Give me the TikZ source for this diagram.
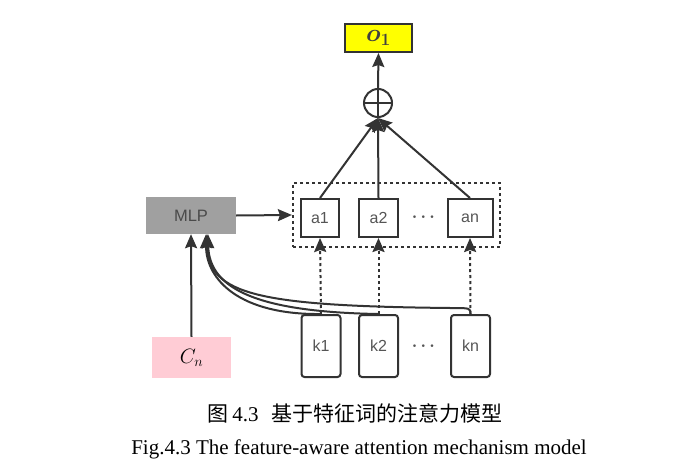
\documentclass[tikz,border=0pt]{standalone}
\usepackage{fontspec}
\setmainfont{Liberation Serif}
\setsansfont{Liberation Sans}
\newfontfamily\cjk{Noto Sans CJK SC}
\usepackage{amsmath,bm}
\usetikzlibrary{arrows.meta,calc}
\definecolor{linec}{HTML}{333333}
\definecolor{labc}{HTML}{555555}
\definecolor{mlpfill}{HTML}{A0A0A0}
\definecolor{mlptext}{HTML}{4A4A4A}
\definecolor{cnfill}{HTML}{FFCCD5}
\definecolor{ofill}{HTML}{FFFF00}
\newcommand\fsLab{\fontsize{16}{19}\selectfont}
\newcommand\fsMlp{\fontsize{16.5}{19}\selectfont}
\newcommand\fsOut{\fontsize{24}{27}\selectfont}
\newcommand\fsCn{\fontsize{20}{23}\selectfont}
\newcommand\fsCap{\fontsize{21}{25}\selectfont}
\begin{document}
\begin{tikzpicture}[x=1pt,y=-1pt,
  boxsty/.style={draw=linec,line width=2pt,inner sep=0pt,font=\sffamily\fsLab,text=labc},
  kbox/.style={boxsty,rounded corners=3pt,minimum width=39pt,minimum height=62pt},
  abox/.style={boxsty,minimum height=38pt},
  arr/.style={-{Stealth[length=14pt,width=12pt,inset=2pt]},draw=linec,line width=2pt},
  dotarr/.style={arr,dash pattern=on 3pt off 3pt},
  dotsty/.style={font=\fsLab,text=labc},
  capt/.style={font=\fsCap,inner sep=0pt}]
\useasboundingbox (0,0) rectangle (686,471);
\fill[white] (0,0) rectangle (686,471);

% top output
\node[boxsty,fill=ofill,minimum width=67pt,minimum height=28pt,text=black!75,font=\fsOut] (o1) at (378.5,38) {$\bm{o_1}$};
\node[circle,draw=linec,line width=2pt,minimum size=28pt,inner sep=0pt] (plus) at (378,103) {};
\draw[draw=linec,line width=2pt] (plus.north) -- (plus.south) (plus.west) -- (plus.east);

% attention group
\node[draw=linec,line width=2.2pt,dash pattern=on 3pt off 3pt,minimum width=207pt,minimum height=64pt,inner sep=0pt] (grp) at (396.5,215) {};
\node[abox,minimum width=38pt] (a1) at (320,218) {a1};
\node[abox,minimum width=39pt] (a2) at (378.5,218) {a2};
\node[abox,minimum width=45pt] (an) at (470,218) {an};
\node[dotsty] (adots) at (425,217) {$\boldsymbol{\cdots}$};

% MLP and Cn
\node[fill=mlpfill,minimum width=90pt,minimum height=37pt,inner sep=0pt,font=\sffamily\fsMlp,text=mlptext] (mlp) at (191,215.5) {MLP};
\node[fill=cnfill,minimum width=79pt,minimum height=41pt,inner sep=0pt,font=\fsCn] (cn) at (191.5,357.5) {$C_n$};

% keys
\node[kbox] (k1) at (321,346) {k1};
\node[kbox] (k2) at (378.5,346) {k2};
\node[kbox] (kn) at (470.5,346) {kn};
\node[dotsty] (kdots) at (425,346) {$\boldsymbol{\cdots}$};

% connectors
\draw[arr] (plus.north) -- (o1.south);
\draw[arr] (a1.north) -- (plus.south);
\draw[arr] (a2.north) -- (plus.south);
\draw[arr] (an.north) -- (plus.south);
\draw[arr] (mlp.east) -- (grp.west);
\draw[arr] (cn.north) -- (mlp.south);
\draw[dotarr] (k1.north) -- (a1.south);
\draw[dotarr] (k2.north) -- (a2.south);
\draw[dotarr] (kn.north) -- (an.south);

\draw[arr] (k1.north) .. controls (240,315) and (206,280) .. ([xshift=15pt]mlp.south);
\draw[arr] (k2.north) .. controls (260,312) and (209,290) .. ([xshift=17pt]mlp.south);
\draw[arr] (kn.north) .. controls (470.5,308) .. (450,308) .. controls (260,306) and (208,295) .. ([xshift=16pt]mlp.south);

% caption
\node[capt] (cap1) at (355,413) {{\cjk 图}\,4.3\hspace{0.6em}{\cjk 基于特征词的注意力模型}};
\node[capt] (cap2) at (359,449) {Fig.4.3 The feature-aware attention mechanism model};
\end{tikzpicture}
\end{document}
